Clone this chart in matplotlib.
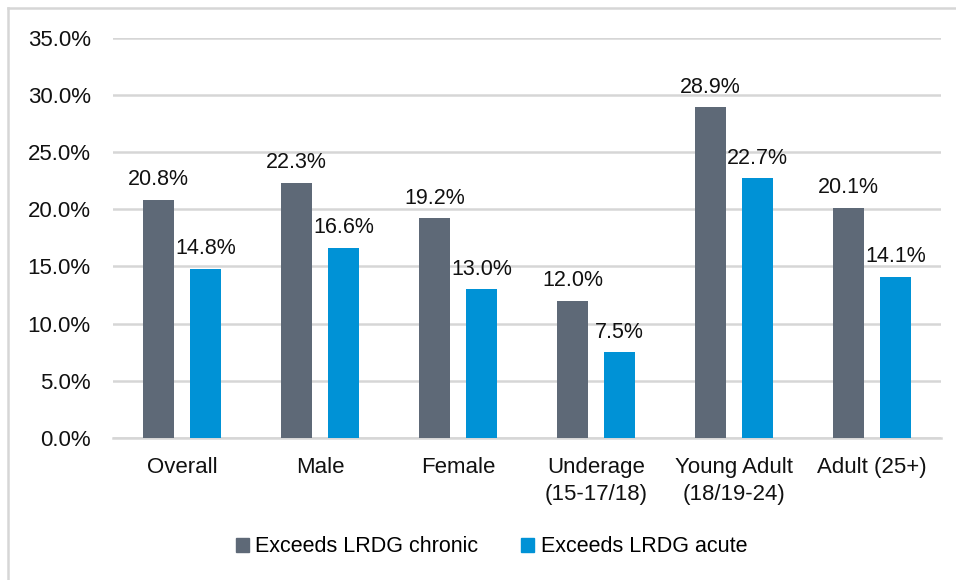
import numpy as np
import matplotlib
matplotlib.use('Agg')
import matplotlib.pyplot as plt
from matplotlib.lines import Line2D
from matplotlib.patches import Patch

plt.rcParams['font.family'] = ['Liberation Sans', 'DejaVu Sans']

categories = ['Overall', 'Male', 'Female', 'Underage\n(15-17/18)',
              'Young Adult\n(18/19-24)', 'Adult (25+)']
chronic = [20.8, 22.3, 19.2, 12.0, 28.9, 20.1]
acute = [14.8, 16.6, 13.0, 7.5, 22.7, 14.1]
series_names = ['Exceeds LRDG chronic', 'Exceeds LRDG acute']
yticks = [0, 5, 10, 15, 20, 25, 30, 35]

c_chronic = '#5E6977'
c_acute = '#0092D6'
c_grid = '#D6D6D6'
c_text = '#111111'

fig = plt.figure(figsize=(9.56, 5.8), dpi=100)
ax = fig.add_axes([0.1182, 0.2448, 0.8661, 0.6902])

x = np.arange(len(categories))
w = 0.225
off = 0.17
b1 = ax.bar(x - off, chronic, w, color=c_chronic, zorder=3)
b2 = ax.bar(x + off, acute, w, color=c_acute, zorder=3)

for bars, vals in [(b1, chronic), (b2, acute)]:
    for b, v in zip(bars, vals):
        ax.annotate('%.1f%%' % v, (b.get_x() + b.get_width() / 2, v),
                    xytext=(0, 7), textcoords='offset points',
                    ha='center', va='bottom', fontsize=15.5, color=c_text)

ax.set_xlim(-0.5, len(categories) - 0.5)
ax.set_ylim(0, 35)
ax.set_yticks(yticks)
ax.set_yticklabels(['%.1f%%' % t for t in yticks], fontsize=16, color=c_text)
ax.set_xticks(x)
ax.set_xticklabels(categories, fontsize=16, color=c_text, linespacing=1.35)
ax.tick_params(axis='y', length=0, pad=16)
ax.tick_params(axis='x', length=0, pad=14)
ax.yaxis.grid(True, color=c_grid, linewidth=1.8, zorder=0)
for s in ['top', 'right', 'left']:
    ax.spines[s].set_visible(False)
ax.spines['bottom'].set_color(c_grid)
ax.spines['bottom'].set_linewidth(1.8)

handles = [Patch(color=c_chronic), Patch(color=c_acute)]
fig.legend(handles, series_names, loc='center', bbox_to_anchor=(0.514, 0.057),
           ncol=2, frameon=False, fontsize=15.5, handlelength=0.6, handleheight=0.6,
           handletextpad=0.3, columnspacing=2.0)

# outer chart border (only top and left edges visible)
fig.add_artist(Line2D([8 / 956, 1], [1 - 8 / 580, 1 - 8 / 580],
                      color=c_grid, linewidth=1.8, transform=fig.transFigure))
fig.add_artist(Line2D([8 / 956, 8 / 956], [0, 1 - 8 / 580],
                      color=c_grid, linewidth=1.8, transform=fig.transFigure))

fig.savefig('out.png', dpi=100)
